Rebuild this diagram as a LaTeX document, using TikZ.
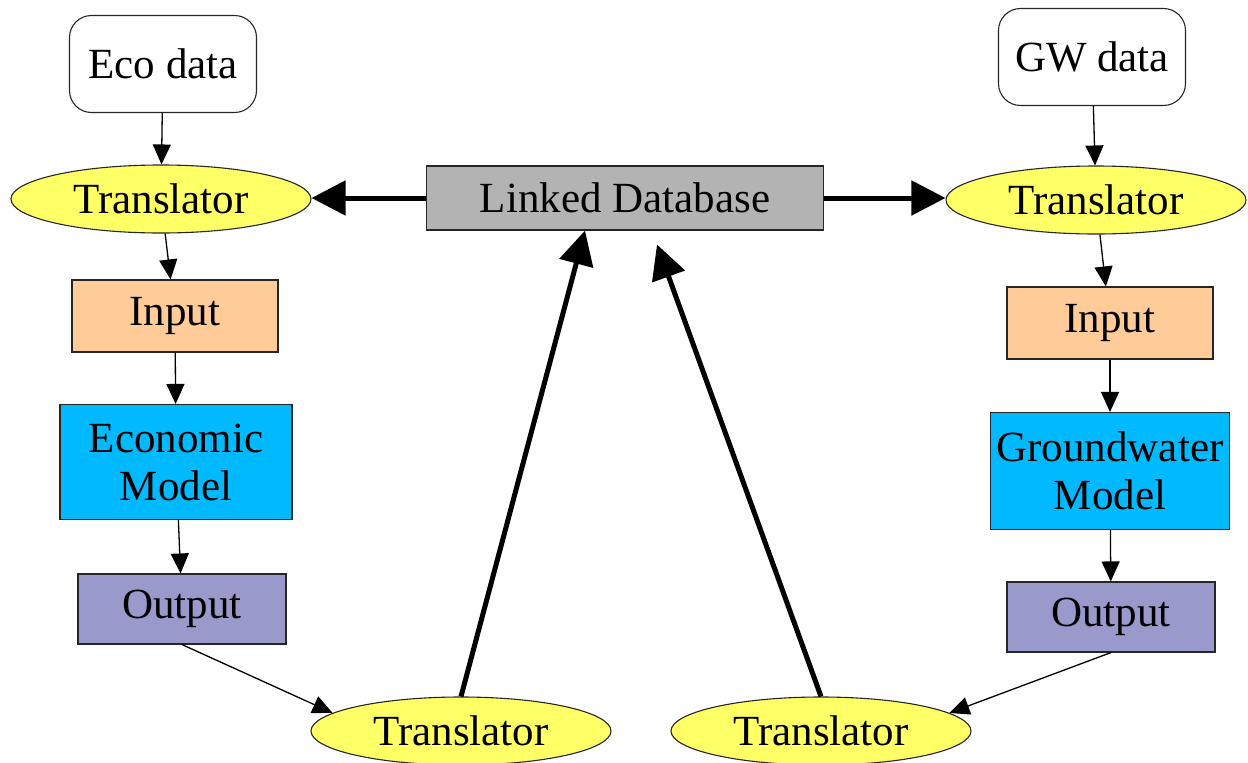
\documentclass[tikz,border=0pt]{standalone}
\usepackage{fontspec}
\setmainfont{Liberation Serif}
\usetikzlibrary{arrows.meta,shapes.geometric}
\definecolor{transyellow}{HTML}{FFFF66}
\definecolor{inputorange}{HTML}{FFCC99}
\definecolor{modelblue}{HTML}{00B9FF}
\definecolor{outputpurple}{HTML}{9999CC}
\definecolor{dbgray}{HTML}{B3B3B3}
\tikzset{
  box/.style={draw=black!85,line width=1.1pt,inner sep=0pt,align=center},
  datanode/.style={box,rounded corners=22pt,minimum width=187pt,minimum height=97pt},
  transl/.style={box,ellipse,fill=transyellow,minimum width=300pt,minimum height=68pt},
  inbox/.style={box,fill=inputorange,minimum width=206pt,minimum height=72pt},
  modelbox/.style={box,fill=modelblue},
  outbox/.style={box,fill=outputpurple,minimum width=208pt,minimum height=70pt},
  flow/.style={-{Triangle[length=20pt,width=18pt]},line width=1.3pt},
  link/.style={-{Triangle[length=34pt,width=34pt]},line width=5pt}
}

\begin{document}
\begin{tikzpicture}[x=1pt,y=-1pt,font=\fontsize{43}{48}\selectfont]
\useasboundingbox (0,0) rectangle (1248,763);
% left chain
\node[datanode] (ecodata) at (163,64) {Eco data};
\node[transl] (transl1) at (161,199) {Translator};
\node[inbox] (input1) at (175,316) {Input};
\node[modelbox,minimum width=232pt,minimum height=115pt] (model1) at (176,462) {Economic\\Model};
\node[outbox] (output1) at (182,609) {Output};
% centre
\node[box,fill=dbgray,minimum width=397pt,minimum height=64pt] (db) at (625,198) {Linked Database};
% right chain
\node[datanode] (gwdata) at (1092,57) {GW data};
\node[transl] (transl2) at (1096,200) {Translator};
\node[inbox] (input2) at (1110,323) {Input};
\node[modelbox,minimum width=239pt,minimum height=117pt] (model2) at (1110,471) {Groundwater\\Model};
\node[outbox] (output2) at (1111,617) {Output};
% bottom translators
\node[transl] (transl3) at (461,731) {Translator};
\node[transl] (transl4) at (821,731) {Translator};

\draw[flow] (ecodata) -- (transl1);
\draw[flow] (transl1) -- (input1);
\draw[flow] (input1) -- (model1);
\draw[flow] (model1) -- (output1);
\draw[flow] (gwdata) -- (transl2);
\draw[flow] (transl2) -- (input2);
\draw[flow] (input2) -- (model2);
\draw[flow] (model2) -- (output2);
\draw[flow] (output1.south) -- (transl3.172);
\draw[flow] (output2.south) -- (transl4.8);

\draw[link] (db.west) -- (transl1.east |- db.west);
\draw[link] (db.east) -- (transl2.west |- db.east);
\draw[link] (transl3.north) -- ([xshift=-40pt]db.south);
\draw[link] (transl4.north) -- ([xshift=32pt,yshift=-14pt]db.south);
\end{tikzpicture}
\end{document}
